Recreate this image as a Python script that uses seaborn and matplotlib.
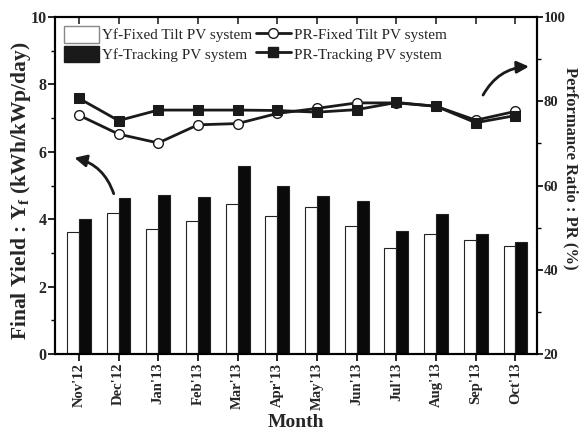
import matplotlib
matplotlib.use('Agg')
import matplotlib.pyplot as plt
import pandas as pd
import seaborn as sns
import numpy as np
from matplotlib.patches import Patch
from matplotlib.lines import Line2D

months = ["Nov'12", "Dec'12", "Jan'13", "Feb'13", "Mar'13", "Apr'13",
          "May'13", "Jun'13", "Jul'13", "Aug'13", "Sep'13", "Oct'13"]
yf_fixed = [3.62, 4.19, 3.72, 3.95, 4.46, 4.10, 4.35, 3.81, 3.15, 3.57, 3.40, 3.22]
yf_tracking = [4.00, 4.64, 4.72, 4.67, 5.58, 5.00, 4.69, 4.53, 3.65, 4.16, 3.57, 3.33]
pr_fixed = [76.7, 72.2, 70.1, 74.4, 74.7, 77.1, 78.3, 79.6, 79.6, 78.8, 75.5, 77.6]
pr_tracking = [80.7, 75.4, 77.9, 77.9, 77.9, 77.8, 77.4, 78.0, 79.7, 78.8, 74.9, 76.6]

sns.set_theme(style='ticks')
plt.rcParams['font.family'] = ['Liberation Serif', 'DejaVu Serif']
plt.rcParams['mathtext.fontset'] = 'custom'
plt.rcParams['mathtext.bf'] = 'Liberation Serif:bold'
plt.rcParams['mathtext.rm'] = 'Liberation Serif'

bars = pd.DataFrame({
    'Month': months * 2,
    'Yf': yf_fixed + yf_tracking,
    'System': ['Fixed'] * 12 + ['Tracking'] * 12,
})

fig, ax = plt.subplots(figsize=(5.79, 4.33), dpi=100)
fig.subplots_adjust(left=0.095, right=0.928, bottom=0.182, top=0.961)

sns.barplot(data=bars, x='Month', y='Yf', hue='System',
            palette=['white', '#0a0a0a'], saturation=1, width=0.6,
            edgecolor='#222222', linewidth=0.8, legend=False, ax=ax)

ax2 = ax.twinx()
pos = np.arange(len(months))
sns.lineplot(x=pos, y=pr_fixed, ax=ax2, color='#1a1a1a', lw=2,
             marker='o', markersize=7, markerfacecolor='white',
             markeredgecolor='#1a1a1a', markeredgewidth=1)
sns.lineplot(x=pos, y=pr_tracking, ax=ax2, color='#1a1a1a', lw=2,
             marker='s', markersize=7, markerfacecolor='#1a1a1a',
             markeredgecolor='#1a1a1a')

ax.set_xlim(-0.6, 11.55)
ax.set_ylim(0, 10)
ax2.set_ylim(20, 100)
ax.set_yticks(np.arange(0, 11, 2))
ax.set_yticks(np.arange(1, 10, 2), minor=True)
ax2.set_yticks(np.arange(20, 101, 20))
ax2.set_yticks(np.arange(30, 100, 20), minor=True)

for a in (ax, ax2):
    for s in a.spines.values():
        s.set_linewidth(1.5)
        s.set_color('black')
    a.tick_params(which='major', length=5, width=1.2, color='black', pad=1)
    a.tick_params(which='minor', length=3, width=1.0, color='black')
    a.grid(False)
ax2.tick_params(which='major', length=4, pad=0.5)

ax.set_xticks(pos)
ax.set_xticklabels(months, rotation=90, fontsize=10.5, fontweight='bold')
ax.set_yticklabels([f'{v:g}' for v in np.arange(0, 11, 2)],
                   fontsize=11.5, fontweight='bold')
ax2.set_yticklabels([f'{v:g}' for v in np.arange(20, 101, 20)],
                    fontsize=10.5, fontweight='bold')

top = ax.secondary_xaxis('top')
top.set_xticks(pos)
top.tick_params(direction='in', length=5, width=1.2, labeltop=False)

ax.set_xlabel('Month', fontsize=14, fontweight='bold', labelpad=3)
ax.set_ylabel(r'Final Yield : Y$_{\mathbf{f}}$ (kWh/kWp/day)',
              fontsize=15.5, fontweight='bold')
ax.yaxis.set_label_coords(-0.045, 0.484)
ax2.set_ylabel('Performance Ratio : PR (%)', fontsize=12,
               fontweight='bold', rotation=270, va='center')
ax2.yaxis.set_label_coords(1.07, 0.55)
ax2.set_xlabel('')

# arrows pointing to the corresponding axis
ax.annotate('', xy=(-0.18, 5.84), xytext=(0.9, 4.68),
            arrowprops=dict(arrowstyle='-|>,head_length=0.6,head_width=0.3',
                            lw=2, color='#1a1a1a',
                            connectionstyle='arc3,rad=0.3'))
ax.annotate('', xy=(11.41, 8.53), xytext=(10.15, 7.61),
            arrowprops=dict(arrowstyle='-|>,head_length=0.6,head_width=0.3',
                            lw=2, color='#1a1a1a',
                            connectionstyle='arc3,rad=-0.3'))

# legend
handles = [
    Patch(facecolor='white', edgecolor='#888888', label='Yf-Fixed Tilt PV system'),
    Patch(facecolor='#1a1a1a', edgecolor='#1a1a1a', label='Yf-Tracking PV system'),
    Line2D([], [], color='#1a1a1a', lw=2, marker='o', markersize=7,
           markerfacecolor='white', label='PR-Fixed Tilt PV system'),
    Line2D([], [], color='#1a1a1a', lw=2, marker='s', markersize=7,
           label='PR-Tracking PV system'),
]
ax2.legend(handles=handles, ncol=2, loc='upper left', frameon=False,
           fontsize=11, handlelength=2.3, handleheight=1.3,
           columnspacing=0.2, handletextpad=0.2, labelspacing=0.2,
           borderaxespad=0.2)

plt.savefig('out.png', dpi=100)
